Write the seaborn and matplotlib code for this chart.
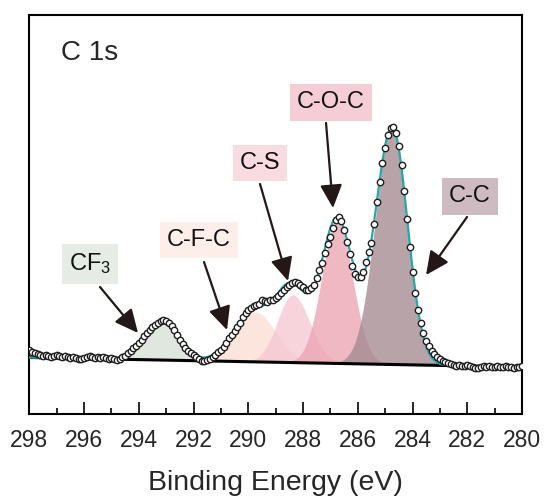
import numpy as np
import matplotlib
matplotlib.use("Agg")
import matplotlib.pyplot as plt
import seaborn as sns
import pandas as pd
from matplotlib.ticker import MultipleLocator

# ---- data ----
E_start, E_stop, E_step = 298.0, 280.0, 0.1
intensity = [
    64.5, 62.5, 61.0, 60.0, 59.5, 58.5, 59.0, 58.0, 57.5, 58.5,
    59.0, 58.0, 57.5, 58.5, 57.0, 56.5, 57.5, 56.0, 55.0, 55.5,
    56.0, 57.0, 58.0, 57.5, 56.5, 57.0, 56.0, 57.0, 56.5, 55.5,
    56.0, 55.0, 54.5, 55.5, 57.0, 58.5, 61.0, 63.5, 66.0, 68.0,
    71.0, 74.5, 78.0, 81.5, 84.5, 87.0, 89.5, 91.5, 93.0, 94.0,
    93.0, 91.0, 88.0, 84.5, 79.5, 74.5, 70.0, 66.0, 63.0, 61.0,
    59.0, 57.0, 55.0, 53.5, 53.0, 54.5, 55.0, 57.0, 59.0, 62.0,
    64.5, 67.5, 71.5, 76.0, 79.5, 83.5, 87.0, 91.5, 97.0, 101.0,
    104.0, 106.5, 108.0, 109.0, 110.5, 114.0, 113.5, 112.5, 114.0, 114.5,
    116.0, 118.5, 121.5, 124.5, 127.0, 129.5, 131.0, 132.5, 131.5, 129.5,
    127.0, 124.5, 124.0, 126.0, 129.5, 136.0, 144.0, 151.0, 161.0, 170.0,
    177.0, 186.0, 194.5, 197.0, 193.0, 184.0, 172.0, 160.0, 148.0, 140.0,
    137.5, 137.0, 142.0, 152.0, 162.0, 171.0, 190.0, 212.0, 232.0, 251.0,
    266.0, 279.0, 286.5, 287.5, 281.0, 268.0, 249.0, 223.0, 195.0, 167.0,
    142.0, 121.0, 104.0, 91.0, 81.0, 73.5, 68.0, 63.0, 60.0, 57.5,
    55.5, 53.5, 52.0, 51.0, 50.0, 49.0, 48.5, 49.0, 48.0, 48.5,
    49.0, 48.0, 47.5, 46.5, 46.0, 47.0, 48.0, 47.5, 48.0, 47.0,
    47.5, 48.0, 47.0, 47.5, 48.0, 47.5, 47.0, 46.5, 47.0, 47.5,
    48.0,
]
# fitted components: name, centre (eV), height, sigma on high-BE side, sigma on low-BE side
names = ["CF$_3$", "C-F-C", "C-S", "C-O-C", "C-C"]
centers = [293.15, 289.75, 288.38, 286.75, 284.74]
heights = [39, 50, 68, 143, 238]
sig_hi = [0.57, 0.75, 0.55, 0.56, 0.62]
sig_lo = [0.57, 0.75, 0.62, 0.56, 0.55]
bg_left, bg_right = 56.5, 47.0   # linear background at 298 and 280 eV
fill_cols = ["#dfe7df", "#fbe5dd", "#f8d3dc", "#f0b8c4", "#b7a3a9"]
box_cols = ["#e5ebe5", "#fdeee9", "#f9dbe2", "#f5cdd6", "#cdbbc1"]

E = np.round(np.arange(E_start, E_stop - 1e-6, -E_step), 2)
I = np.array(intensity)
bg = bg_right + (bg_left - bg_right) * (E - E_stop) / (E_start - E_stop)
comps = []
for c, h, sh, sl in zip(centers, heights, sig_hi, sig_lo):
    s = np.where(E > c, sh, sl)
    comps.append(h * np.exp(-(E - c) ** 2 / (2 * s ** 2)))
env = bg + np.sum(comps, axis=0)

sns.set_style("white")
plt.rcParams["font.family"] = ["Liberation Sans", "DejaVu Sans"]
plt.rcParams["mathtext.default"] = "regular"

fig = plt.figure(figsize=(5.44, 4.96), dpi=100)
ax = fig.add_axes([29.3 / 544, (496 - 414) / 496, (522 - 29.3) / 544, (414 - 15) / 496])

def solid(hexc, a=0.8):
    rgb = np.array(matplotlib.colors.to_rgb(hexc))
    return tuple(np.clip((rgb - (1 - a)) / a, 0, 1))

for comp, col in zip(comps, fill_cols):
    ax.fill_between(E, bg, bg + comp, color=solid(col), alpha=0.8, lw=0)

ax.plot(E, bg, color="black", lw=2.2, zorder=3)
sns.lineplot(x=E, y=env, ax=ax, color="#27a8a8", lw=1.6, zorder=4)
df = pd.DataFrame({"E": E, "I": I})
sns.scatterplot(data=df, x="E", y="I", ax=ax, marker="o", s=21, facecolor="white",
                edgecolor="#1e1e1e", linewidth=1.0, zorder=5)

ax.set_xlim(298, 280)
ax.set_ylim(0, 399)
ax.set_yticks([])
ax.set_ylabel("")
ax.xaxis.set_major_locator(MultipleLocator(2))
ax.xaxis.set_minor_locator(MultipleLocator(1))
ax.tick_params(axis="x", which="major", direction="in", length=8.6, width=1.4,
               labelsize=16.5, pad=11, bottom=True)
ax.tick_params(axis="x", which="minor", direction="in", length=4.3, width=1.4, bottom=True)
for sp in ax.spines.values():
    sp.set_linewidth(1.5)
    sp.set_color("black")
ax.set_xlabel("Binding Energy (eV)", fontsize=20.5, labelpad=13)

def px(x, y):
    return 298 - (x - 29.3) / 27.37, 414 - y

ax.text(*px(61, 53), "C 1s", fontsize=20, ha="left", va="center")

box_xy = [(90, 264), (199, 240), (260, 163), (331, 102.5), (470, 196.5)]
tails = [(100, 287), (204, 262), (260, 184), (326, 123), (467, 217)]
tips = [(138, 333), (227, 330), (288, 281), (333, 208), (426, 275)]
for nm, bc, bxy, t0, t1 in zip(names, box_cols, box_xy, tails, tips):
    ax.text(*px(*bxy), nm, fontsize=17, ha="center", va="center", color="#111111",
            bbox=dict(boxstyle="square,pad=0.3", fc=bc, ec="none"), zorder=6)
    ax.annotate("", xy=px(*t1), xytext=px(*t0),
                arrowprops=dict(arrowstyle="-|>,head_length=0.95,head_width=0.45",
                                color="#231815", lw=1.6, shrinkA=0, shrinkB=0,
                                mutation_scale=15), zorder=6)

fig.savefig("out.png", dpi=100)
